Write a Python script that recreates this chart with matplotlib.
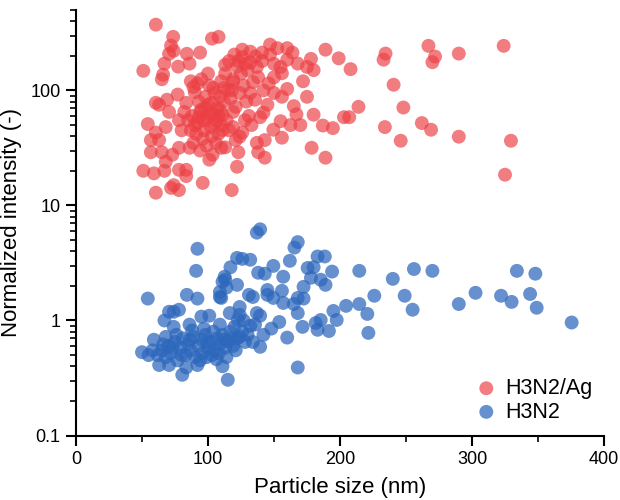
import matplotlib
matplotlib.use("Agg")
import matplotlib.pyplot as plt
from matplotlib.ticker import LogLocator, FixedLocator, NullFormatter

plt.rcParams['font.family'] = ['Liberation Sans', 'DejaVu Sans']

# H3N2/Ag series (particle size nm, normalized intensity)
ag_x = [60.5, 51, 73.6, 72, 74, 70.5, 67, 66, 65, 77.4, 84, 86, 94, 103, 108, 89, 90, 77, 104, 109,
        115, 113, 116, 122, 119, 60.5, 69, 83.5,
        54.4, 56.7, 56.7, 51, 59, 60.5, 67, 72, 78, 74, 78, 83.5, 83.5, 96, 118, 65, 73, 68, 63, 78, 86,
        101, 103.5, 110, 121, 122, 60.5, 68, 78, 70.5, 63,
        126, 132, 147, 152.5, 160, 164, 141, 147, 136, 123, 160, 168, 178, 189, 199, 208, 234.5, 233,
        267, 272, 270, 240.6, 248, 262, 269, 234, 246, 214, 207, 203, 194.6, 187, 180, 175, 178.5, 189,
        165, 160, 156, 156, 146, 134, 119, 135.6, 145, 142, 139.5, 155, 162.5, 149.5, 133, 126, 119, 111,
        124, 156, 143, 137, 138, 123, 113, 143,
        290, 324, 290, 329.5, 325,
        88, 92, 95, 97, 99, 100, 102, 104, 106, 107, 108, 110, 112, 96, 93, 91, 98, 101, 105, 110,
        113, 117, 119, 121, 124, 127, 129, 130, 128, 125, 131, 87, 85, 89, 94, 99, 103, 106, 109, 114,
        116, 118, 100, 95, 92, 82, 80, 87, 112, 120, 126, 132, 137, 141, 150, 155, 142, 150, 128, 132,
        138, 167, 170, 172, 150, 175, 180,
        90, 94, 97, 101, 105, 98, 93, 103, 108, 111]
ag_y = [373, 148, 292, 245, 221, 208, 171, 137, 125, 161, 208, 171, 213, 282, 292, 107, 96, 92, 105, 88,
        101, 167, 180, 161, 125, 78, 83, 78,
        51, 37, 29, 20, 19, 12.9, 20, 14.2, 13.6, 15, 20.4, 20.4, 18, 15.7, 13.6, 29, 27.6, 24, 37, 31.7, 31.7,
        25, 27.6, 31.7, 37, 21.7, 43, 48, 55, 65, 75,
        226, 217, 250, 233, 233, 213, 213, 205, 197, 180, 185, 171, 188, 226, 190, 153, 209, 185,
        244, 197, 176, 112, 71, 52, 45.5, 48, 36.5, 72, 58.5, 58.5, 47, 49.5, 61.5, 88, 31.7, 26,
        73, 103, 88, 141, 115, 118, 118, 83, 75, 64, 58.5, 54, 50, 45.5, 50, 43, 65, 61.5,
        39.6, 38.8, 37, 35, 29, 29, 32, 26,
        209, 244, 39.6, 36.5, 18.5,
        60, 52, 68, 45, 58, 75, 48, 62, 55, 70, 42, 50, 80, 38, 80, 42, 88, 110, 95, 120,
        140, 85, 48, 72, 95, 110, 80, 150, 170, 140, 60, 45, 55, 35, 30, 33, 40, 35, 68, 55,
        45, 100, 140, 125, 115, 65, 45, 120, 105, 205, 195, 175, 160, 180, 170, 160, 100, 95, 55, 95,
        130, 62, 50, 120, 130, 160, 150,
        50, 65, 55, 62, 52, 70, 58, 78, 60, 45]

# H3N2 series
h_x = [92, 91, 54.4, 84, 92, 70.5, 74, 78, 67, 74, 86, 95, 101, 109, 110, 109, 114, 117, 113, 122,
       115, 80.5, 50, 55, 59, 63, 70.5, 83.5, 92, 99, 106.5, 114, 111, 120, 122, 68,
       139.5, 137, 168, 165.5, 126, 132, 149.5, 162, 183, 188.5, 175.5, 180, 194, 214.6, 240, 256, 249,
       255, 226, 214.6, 220.7, 221.5, 204.6, 195, 197.5, 191.6, 185.4, 181.6, 183, 171.6, 168, 154, 160,
       168, 157, 156, 145, 145, 134, 131, 138, 143, 172.4, 168, 172.4, 165, 149.5, 157, 185.4, 189, 178,
       137, 139.5, 135.6, 139.5, 122.6, 124, 116.5, 112.6, 111, 122, 124, 109, 124, 128, 134,
       270, 290, 302.7, 322, 330, 334, 348, 344, 349, 375.5,
       62, 65, 68, 70, 72, 75, 77, 79, 81, 83, 85, 87, 89, 90, 93, 95, 96, 98, 100, 102,
       104, 105, 107, 109, 111, 113, 115, 117, 119, 121, 66, 73, 80, 86, 94, 99, 103, 108, 112, 118,
       58, 76, 88, 97, 126, 130, 132, 127, 142, 148]
h_y = [4.2, 2.7, 1.55, 1.67, 1.55, 1.19, 1.19, 1.24, 1.0, 0.88, 0.92, 1.08, 1.1, 0.92, 1.57, 1.77, 1.93,
       2.9, 2.26, 3.5, 0.305, 0.337, 0.53, 0.5, 0.68, 0.41, 0.41, 0.39, 0.41, 0.48, 0.46, 0.48, 0.4,
       0.88, 0.7, 0.72,
       6.2, 5.8, 4.8, 4.3, 3.43, 3.37, 2.98, 3.3, 3.6, 3.6, 2.86, 2.9, 2.66, 2.7, 2.3, 2.8, 1.64,
       1.24, 1.64, 1.39, 1.14, 0.78, 1.34, 1.21, 1.01, 0.81, 1.01, 0.95, 0.83, 0.88, 1.16, 0.97, 0.71,
       0.39, 2.4, 1.81, 1.84, 1.67, 1.6, 1.67, 2.6, 2.55, 1.96, 1.57, 1.55, 1.39, 1.57, 1.42, 2.26, 2.04,
       2.35, 1.16, 1.1, 0.92, 0.59, 1.01, 1.12, 1.16, 2.4, 2.17, 2.04, 1.31, 1.6, 0.72, 0.65, 0.65,
       2.7, 1.39, 1.74, 1.64, 1.45, 2.7, 2.55, 1.7, 1.29, 0.96,
       0.5, 0.55, 0.48, 0.6, 0.52, 0.65, 0.45, 0.58, 0.7, 0.5, 0.62, 0.55, 0.72, 0.48, 0.6, 0.68, 0.52,
       0.75, 0.58, 0.65, 0.8, 0.55, 0.7, 0.62, 0.75, 0.58, 0.66, 0.8, 0.6, 0.55, 0.62, 0.58, 0.5, 0.68,
       0.45, 0.65, 0.5, 0.52, 0.68, 0.7, 0.55, 0.75, 0.82, 0.85, 0.8, 0.75, 0.9, 1.0, 0.75, 0.85]

labels = ["H3N2/Ag", "H3N2"]
x_ticks = [0, 100, 200, 300, 400]
y_ticks = [0.1, 1, 10, 100]
y_tick_labels = ["0.1", "1", "10", "100"]

fig = plt.figure(figsize=(6.2, 5.0), dpi=100)
ax = fig.add_axes([76 / 620, 1 - 435.5 / 500, 528 / 620, 425.5 / 500])

ax.scatter(ag_x, ag_y, s=100, color='#EC3F44', alpha=0.68, edgecolors='none', label=labels[0], zorder=3)
ax.scatter(h_x, h_y, s=100, color='#2C67BC', alpha=0.72, edgecolors='none', label=labels[1], zorder=3)

ax.set_yscale('log')
ax.set_xlim(0, 400)
ax.set_ylim(0.1, 500)

ax.set_xticks(x_ticks)
ax.xaxis.set_minor_locator(FixedLocator([50, 150, 250, 350]))
ax.set_yticks(y_ticks)
ax.set_yticklabels(y_tick_labels)
ax.yaxis.set_minor_locator(LogLocator(base=10, subs=range(2, 10), numticks=20))
ax.yaxis.set_minor_formatter(NullFormatter())

for s in ['top', 'right']:
    ax.spines[s].set_visible(False)
for s in ['left', 'bottom']:
    ax.spines[s].set_linewidth(1.5)
    ax.spines[s].set_color('black')

ax.tick_params(which='major', direction='out', length=7, width=1.5, labelsize=13, colors='black', pad=4)
ax.tick_params(which='minor', direction='out', length=4, width=1.2, colors='black')

ax.set_xlabel("Particle size (nm)", fontsize=16, labelpad=7)
ax.set_ylabel("Normalized intensity (-)", fontsize=16, labelpad=6)

leg = ax.legend(loc='lower left', bbox_to_anchor=(0.72, -0.015), frameon=False, fontsize=15.5,
                handlelength=1.0, handletextpad=0.4, labelspacing=0.12, markerscale=1.0)

fig.savefig("out.png", dpi=100)
